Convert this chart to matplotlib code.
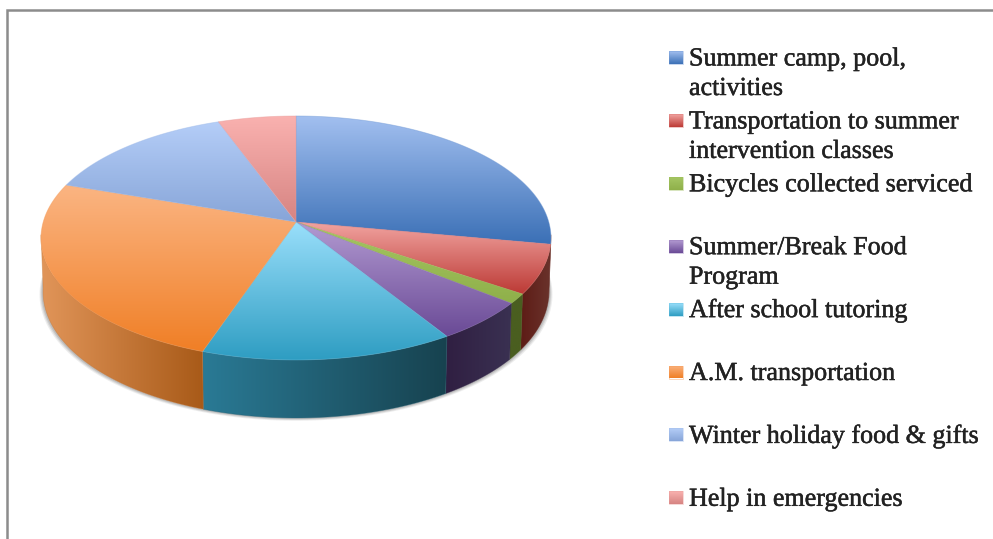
import matplotlib
matplotlib.use("Agg")
import matplotlib.patheffects as pe
import matplotlib.pyplot as plt
import numpy as np
from matplotlib.patches import Polygon

labels = [
    "Summer camp, pool,\nactivities",
    "Transportation to summer\nintervention classes",
    "Bicycles collected serviced",
    "Summer/Break Food\nProgram",
    "After school tutoring",
    "A.M. transportation",
    "Winter holiday food & gifts",
    "Help in emergencies",
]
values = [27.9, 6.5, 1.3, 5.4, 14.15, 24.95, 14.2, 5.6]

# colours: top face goes light -> strong, side goes left -> right
top_light = ["#A3C0F0", "#F2A5A2", "#A5C663", "#B39BD2", "#9ADFFB", "#FBB583", "#B5CEF8", "#FAB2B0"]
top_strong = ["#3B70B6", "#BC3A35", "#8FB04A", "#6A4A96", "#2E9DC2", "#F07F26", "#87A5D8", "#D68482"]
side_left = ["#7A4038", "#5E1C16", "#4A5E20", "#301F42", "#2A7A95", "#E19559", "#7A4038", "#7A4038"]
side_right = ["#7A4038", "#6A332C", "#4A5E20", "#3A3152", "#17424F", "#A85A18", "#7A4038", "#7A4038"]

CX, CY = 296, 222
RX, RY = 252.8, 119.9
K = 0.131


def project(deg, lower=False):
    # clockwise from the top of the disc, with a little perspective
    t = np.radians(deg)
    u, v = np.sin(t), -np.cos(t)
    x = CX + RX * u / (1 - K * v)
    y = CY + RY * v / (1 - K * v)
    if lower:
        x = CX + (x - CX) * 0.992
        y = y + 53 + 5 * v
    return x, y


def hex_rgb(c):
    return np.array(matplotlib.colors.to_rgb(c))


def fill_gradient(ax, pts, c0, c1, vertical=True, zorder=2):
    pts = np.array(pts)
    x0, y0 = pts.min(axis=0)
    x1, y1 = pts.max(axis=0)
    s = np.linspace(0, 1, 256)
    grad = np.outer(1 - s, hex_rgb(c0)) + np.outer(s, hex_rgb(c1))
    grad = grad[:, None, :] if vertical else grad[None, :, :]
    im = ax.imshow(grad, extent=(x0, x1, y1, y0), aspect="auto", origin="upper",
                   interpolation="bilinear", zorder=zorder)
    clip = Polygon(pts, closed=True, transform=ax.transData)
    im.set_clip_path(clip)
    # soften the hard clip edge
    ax.add_patch(Polygon(pts, closed=True, fill=False, lw=0.6, alpha=0.45, zorder=zorder,
                         edgecolor=(hex_rgb(c0) + hex_rgb(c1)) / 2))


fig = plt.figure(figsize=(9.93, 5.39), dpi=100)
ax = fig.add_axes([0, 0, 1, 1])

# soft shadow under the rim
front = np.linspace(90, 270, 120)
rim_x, rim_y = project(front, lower=True)
for off, a in [(3.5, 0.10), (2.5, 0.14), (1.5, 0.18)]:
    sx = CX + (rim_x - CX) * (1 + off / 250)
    ax.fill(sx, rim_y + off * 0.8, color="#555555", alpha=a, lw=0, zorder=1)

ends = np.cumsum(values) / np.sum(values) * 360
starts = np.concatenate([[0], ends[:-1]])

for i in range(len(values)):
    a0 = max(starts[i], 96)
    a1 = min(ends[i], 264)
    if a1 > a0:
        angs = np.linspace(a0, a1, 80)
        ux, uy = project(angs)
        lx, ly = project(angs[::-1], lower=True)
        side = np.column_stack([np.r_[ux, lx], np.r_[uy, ly]])
        fill_gradient(ax, side, side_left[i], side_right[i], vertical=False, zorder=2)

for i in range(len(values)):
    angs = np.linspace(starts[i], ends[i], 120)
    x, y = project(angs)
    top = np.column_stack([np.r_[CX, x], np.r_[CY, y]])
    fill_gradient(ax, top, top_light[i], top_strong[i], zorder=3)

# legend
legend_y = 57.5
for i, label in enumerate(labels):
    box = [(669, legend_y - 6.5), (683, legend_y - 6.5), (683, legend_y + 6.5), (669, legend_y + 6.5)]
    fill_gradient(ax, box, top_light[i], top_strong[i], zorder=3)
    for j, line in enumerate(label.split("\n")):
        ax.text(689, legend_y + 8 + 29.5 * j, line, family="Liberation Serif", fontsize=18.75,
                color="#222222", va="baseline", ha="left",
                path_effects=[pe.withStroke(linewidth=0.35, foreground="#222222")])
    legend_y += 62.9

# outer frame, only left and top are in view
ax.plot([7, 7, 993], [539, 9.5, 9.5], color="#8C8C8C", lw=1.8, solid_joinstyle="miter", zorder=4)

ax.set_xlim(0, 993)
ax.set_ylim(539, 0)
ax.axis("off")
fig.savefig("out.png", dpi=100, facecolor="white")
